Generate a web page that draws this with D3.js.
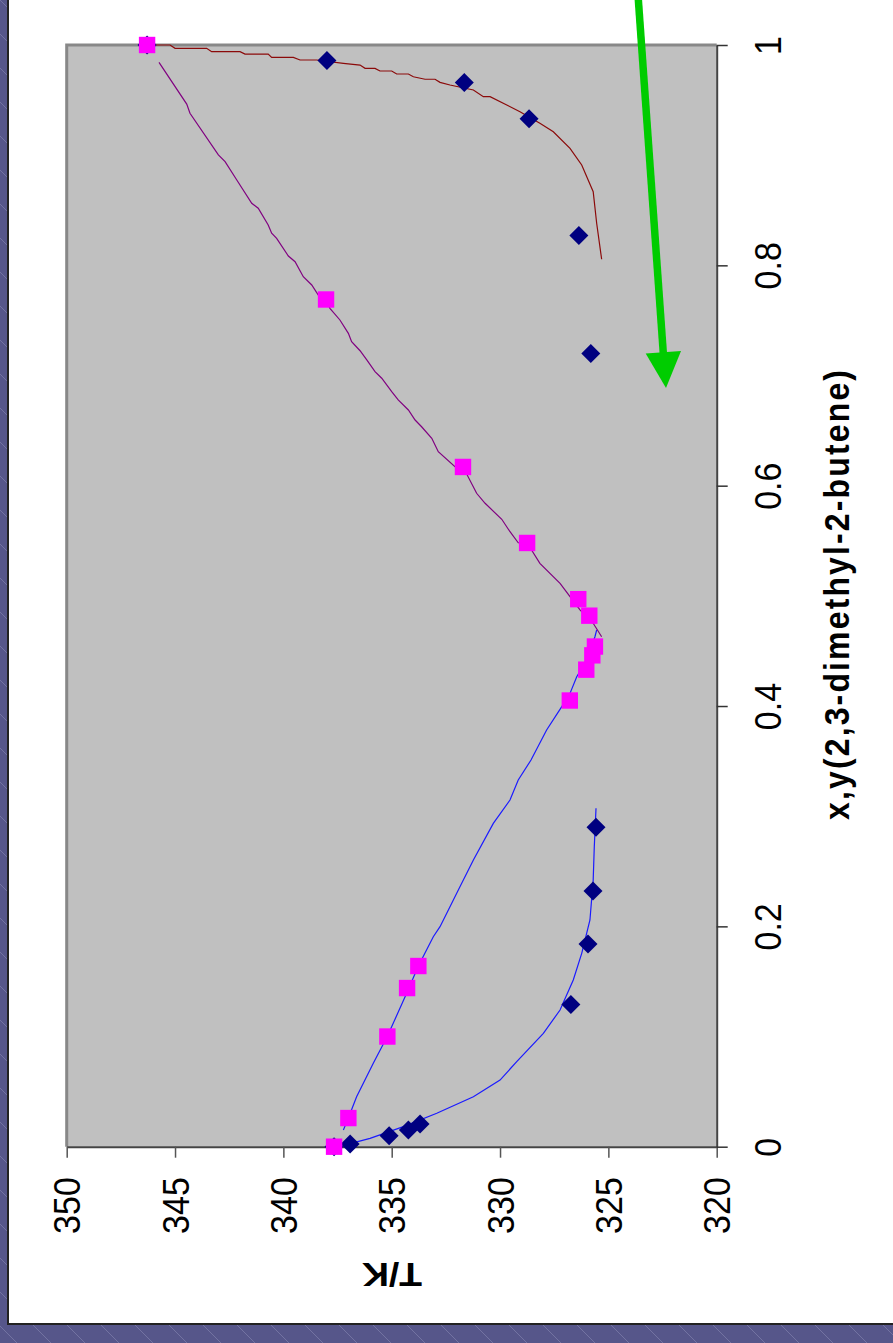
<!DOCTYPE html>
<html>
<head>
<meta charset="utf-8">
<script src="https://cdn.jsdelivr.net/npm/d3@7"></script>
<style>
  html, body { margin: 0; padding: 0; background: #fff; }
  svg { display: block; font-family: "Liberation Sans", Arial, sans-serif; }
</style>
</head>
<body>
<div id="chart"></div>
<script>
// Measured points (liquid x / vapour y of 2,3-dimethyl-2-butene vs T in K)
var liqX = [0, 0.0025, 0.0100, 0.0152, 0.0206, 0.129, 0.184, 0.232, 0.290, 0.720, 0.827, 0.933, 0.966, 0.986, 1.0];
var liqT = [337.66, 336.92, 335.12, 334.23, 333.69, 326.73, 325.94, 325.71, 325.57, 325.81, 326.36, 328.66, 331.65, 337.99, 346.29];
var vapY = [0, 0.026, 0.100, 0.144, 0.164, 0.405, 0.433, 0.446, 0.454, 0.482, 0.497, 0.548, 0.617, 0.769, 1.0];
var vapT = [337.66, 337.00, 335.20, 334.29, 333.77, 326.78, 326.02, 325.74, 325.62, 325.88, 326.39, 328.75, 331.71, 338.03, 346.29];

// Model curves
var liqLowX = [0.0015, 0.0025, 0.0076, 0.0182, 0.0303, 0.0454, 0.0605, 0.0772, 0.1029, 0.1241, 0.1513, 0.1755, 0.2058, 0.2421, 0.2723, 0.3072];
var liqLowT = [337.39, 336.96, 336.00, 334.46, 332.92, 331.23, 330.00, 329.23, 328.00, 327.23, 326.62, 326.23, 325.85, 325.70, 325.65, 325.57];

var liqHighX = [1.0, 1.0, 0.9970, 0.9970, 0.9939, 0.9939, 0.9918, 0.9918, 0.9888, 0.9888, 0.9864, 0.9864, 0.9834, 0.9818, 0.9788, 0.9788,
    0.9764, 0.9764, 0.9737, 0.9737, 0.9712, 0.9689, 0.9689, 0.9661, 0.9637, 0.9592, 0.9531, 0.9531, 0.9456, 0.9395, 0.9289,
    0.9213, 0.9062, 0.8911, 0.8668, 0.8382, 0.8055];
var liqHighT = [346.29, 345.23, 345.00, 343.54, 343.31, 342.00, 341.77, 340.70, 340.54, 339.54, 339.23, 338.46, 337.23, 336.46, 336.23, 335.77,
    335.54, 335.00, 334.77, 334.23, 334.00, 333.46, 333.00, 332.77, 332.31, 331.23, 330.77, 330.46, 329.69, 329.08, 328.16,
    327.54, 326.77, 326.23, 325.70, 325.54, 325.31];

var vapLowY = [0.0152, 0.026, 0.0454, 0.0757, 0.1002, 0.1392, 0.164, 0.1906, 0.1997, 0.2360, 0.2602, 0.2935, 0.3147, 0.3329,
    0.3510, 0.3782, 0.3994, 0.4115, 0.4266, 0.4418, 0.4629, 0.4690];
var vapLowT = [337.23, 337.00, 336.62, 335.85, 335.20, 334.31, 333.77, 333.08, 332.77, 331.85, 331.23, 330.31, 329.54, 329.16,
    328.57, 327.85, 327.15, 326.77, 326.46, 326.00, 325.62, 325.54];

var vapHighY = [0.9843, 0.9464, 0.9380, 0.9002, 0.8941, 0.8775, 0.8563, 0.8518, 0.8366, 0.8291, 0.8245, 0.8085, 0.8033, 0.7897,
    0.7822, 0.7731, 0.7692, 0.7610, 0.7504, 0.7383, 0.7307, 0.7225, 0.7141, 0.7035, 0.6975, 0.6853, 0.6778, 0.6687, 0.6596,
    0.6535, 0.6430, 0.6308, 0.6172, 0.6167, 0.5931, 0.5840, 0.5695, 0.5582, 0.5482, 0.5477, 0.5295, 0.5114, 0.4992, 0.4872,
    0.4751, 0.4629];
var vapHighT = [345.74, 344.46, 344.31, 343.00, 342.69, 342.15, 341.46, 341.16, 340.70, 340.54, 340.31, 339.77, 339.46, 339.08,
    338.69, 338.39, 338.05, 337.85, 337.39, 337.00, 336.85, 336.46, 336.15, 335.77, 335.46, 335.00, 334.70, 334.23, 333.92,
    333.62, 333.15, 332.85, 332.08, 331.70, 331.08, 330.69, 329.92, 329.54, 329.16, 328.74, 328.16, 327.23, 326.77, 326.31,
    325.70, 325.31];

var tTicks = [350, 345, 340, 335, 330, 325, 320];
var xTicks = [0, 0.2, 0.4, 0.6, 0.8, 1];

var width = 893, height = 1343;
var plot = { left: 66.7, right: 716.7, top: 45, bottom: 1146.7 };

var svg = d3.select("#chart").append("svg")
    .attr("width", width)
    .attr("height", height);

// slide background with diagonal hatching
var defs = svg.append("defs");
var pat = defs.append("pattern")
    .attr("id", "hatch")
    .attr("patternUnits", "userSpaceOnUse")
    .attr("width", 34).attr("height", 34);
pat.append("rect").attr("width", 34).attr("height", 34).attr("fill", "#56568a");
pat.append("path").attr("d", "M0,0 L34,34").attr("stroke", "#7a7aa8").attr("stroke-width", 0.8);

svg.append("rect").attr("width", width).attr("height", height).attr("fill", "url(#hatch)");
svg.append("rect")
    .attr("x", 8).attr("y", -10)
    .attr("width", width + 20).attr("height", 1343 - 9)
    .attr("fill", "#fff")
    .attr("stroke", "#222").attr("stroke-width", 2);

// scales: chart is turned on its side, T runs along the bottom, x,y up the right side
var T = d3.scaleLinear().domain([350, 320]).range([plot.left, plot.right]);
var X = d3.scaleLinear().domain([0, 1]).range([plot.bottom, plot.top]);

// plot area
svg.append("rect")
    .attr("x", plot.left).attr("y", plot.top)
    .attr("width", plot.right - plot.left).attr("height", plot.bottom - plot.top)
    .attr("fill", "#c0c0c0");
svg.append("path")
    .attr("d", "M" + plot.left + "," + plot.bottom + "V" + plot.top + "H" + plot.right)
    .attr("fill", "none").attr("stroke", "#888").attr("stroke-width", 3);

// T axis
var tAxis = svg.append("g")
    .attr("transform", "translate(0," + plot.bottom + ")")
    .call(d3.axisBottom(T).tickValues(tTicks).tickSize(11).tickSizeOuter(0).tickFormat(d3.format("d")));
tAxis.select(".domain").attr("stroke", "#444").attr("stroke-width", 2);
tAxis.selectAll(".tick line").attr("stroke", "#555").attr("stroke-width", 1.5);
tAxis.selectAll(".tick text")
    .attr("x", null).attr("y", null)
    .attr("transform", "translate(0,30.5) scale(1.1,1) rotate(-90)")
    .attr("text-anchor", "end")
    .attr("dy", "0.35em")
    .attr("font-size", 34)
    .attr("font-family", "Liberation Sans, Arial, sans-serif")
    .attr("fill", "#000");

// x axis
var xAxis = svg.append("g")
    .attr("transform", "translate(" + plot.right + ",0)")
    .call(d3.axisRight(X).tickValues(xTicks).tickSize(11).tickSizeOuter(0)
        .tickFormat(function (d) { return String(+d.toFixed(1)); }));
xAxis.select(".domain").attr("stroke", "#444").attr("stroke-width", 2);
xAxis.selectAll(".tick line").attr("stroke", "#333").attr("stroke-width", 1.5);
xAxis.selectAll(".tick text")
    .attr("x", null).attr("y", null)
    .attr("transform", "translate(51.5,0) scale(1.1,1) rotate(-90)")
    .attr("text-anchor", "middle")
    .attr("dy", "0.35em")
    .attr("font-size", 34)
    .attr("font-family", "Liberation Sans, Arial, sans-serif")
    .attr("fill", "#000");

// axis titles
svg.append("text")
    .attr("transform", "translate(392,1275) scale(1.1,1) rotate(180)")
    .attr("text-anchor", "middle")
    .attr("dy", "0.35em")
    .attr("font-size", 34)
    .attr("font-weight", "bold")
    .text("T/K");

svg.append("text")
    .attr("transform", "translate(837,595) scale(1.1,1) rotate(-90)")
    .attr("text-anchor", "middle")
    .attr("dy", "0.35em")
    .attr("font-size", 32)
    .attr("font-weight", "bold")
    .attr("textLength", 450)
    .attr("lengthAdjust", "spacing")
    .text("x,y(2,3-dimethyl-2-butene)");

// curves
function zip(xs, ts) {
    return xs.map(function (x, i) { return { x: x, t: ts[i] }; });
}
var line = d3.line()
    .x(function (d) { return T(d.t); })
    .y(function (d) { return X(d.x); });

var curves = [
    { data: zip(liqLowX, liqLowT), color: "#1a1aff" },
    { data: zip(vapLowY, vapLowT), color: "#1a1aff" },
    { data: zip(liqHighX, liqHighT), color: "#8b0a0a" },
    { data: zip(vapHighY, vapHighT), color: "#800080" }
];
svg.append("g").selectAll("path")
    .data(curves)
    .join("path")
    .attr("d", function (d) { return line(d.data); })
    .attr("fill", "none")
    .attr("stroke", function (d) { return d.color; })
    .attr("stroke-width", 1.2);

// liquid points: diamonds
svg.append("g").selectAll("path")
    .data(zip(liqX, liqT))
    .join("path")
    .attr("transform", function (d) { return "translate(" + T(d.t) + "," + X(d.x) + ")"; })
    .attr("d", "M0,-9.5L9.5,0L0,9.5L-9.5,0Z")
    .attr("fill", "#000080");

// vapour points: squares
svg.append("g").selectAll("rect")
    .data(zip(vapY, vapT))
    .join("rect")
    .attr("x", function (d) { return T(d.t) - 8.2; })
    .attr("y", function (d) { return X(d.x) - 8.2; })
    .attr("width", 16.4).attr("height", 16.4)
    .attr("fill", "#ff00ff");

// green arrow annotation
svg.append("line")
    .attr("x1", 638).attr("y1", -5)
    .attr("x2", 663.5).attr("y2", 356)
    .attr("stroke", "#00cc00").attr("stroke-width", 7.5);
svg.append("path")
    .attr("d", "M645.7,353.5L681,351L666,388Z")
    .attr("fill", "#00cc00");
</script>
</body>
</html>
